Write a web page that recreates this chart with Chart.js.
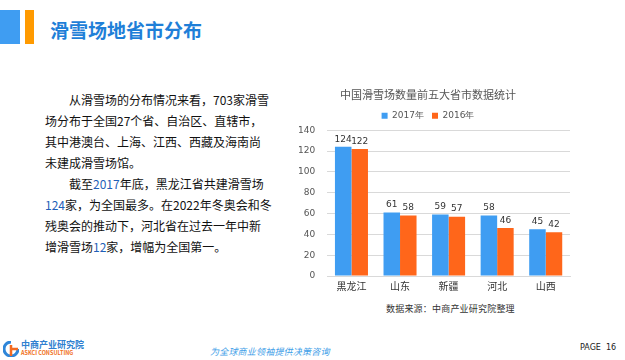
<!DOCTYPE html>
<html><head><meta charset="utf-8">
<script src="https://cdn.jsdelivr.net/npm/chart.js@4/dist/chart.umd.min.js"></script>
<style>
html,body{margin:0;padding:0;background:#fff;}
body{width:625px;height:360px;position:relative;overflow:hidden;font-family:"Noto Sans CJK SC","Noto Sans",sans-serif;}
.bar1{position:absolute;left:0;top:10px;width:20px;height:34px;background:#3F9DF2;}
.bar2{position:absolute;left:25px;top:10px;width:9px;height:34px;background:#FF9A00;}
.title{position:absolute;left:50px;top:16px;font-size:19px;font-weight:bold;color:#1F7FD8;line-height:28px;}
.para{position:absolute;left:45px;top:89px;width:225px;font-size:12px;line-height:21px;color:#111;letter-spacing:0px;}
.para div{white-space:nowrap;}
.hl{color:#1F5FB8;}
#wrap{position:absolute;left:286px;top:84px;width:292px;height:212px;}
.src{position:absolute;left:386px;top:302px;font-size:9px;color:#333;letter-spacing:0.2px;}
.logo{position:absolute;left:3px;top:340px;}
.slogan{position:absolute;left:210px;top:345px;font-size:9px;color:#3FA0E8;font-style:italic;letter-spacing:0.2px;}
.page{position:absolute;left:580px;top:343px;font-size:8px;color:#222;font-family:"DejaVu Sans",sans-serif;}
</style></head>
<body>
<div class="bar1"></div><div class="bar2"></div>
<div class="title">滑雪场地省市分布</div>
<div class="para">
<div>&emsp;&emsp;从滑雪场的分布情况来看，703家滑雪</div>
<div>场分布于全国27个省、自治区、直辖市，</div>
<div>其中港澳台、上海、江西、西藏及海南尚</div>
<div>未建成滑雪场馆。</div>
<div>&emsp;&emsp;截至<span class="hl">2017</span>年底，黑龙江省共建滑雪场</div>
<div><span class="hl">124</span>家，为全国最多。在2022年冬奥会和冬</div>
<div>残奥会的推动下，河北省在过去一年中新</div>
<div>增滑雪场<span class="hl">12</span>家，增幅为全国第一。</div>
</div>
<div id="wrap"><canvas id="c"></canvas></div>
<div class="src">数据来源：中商产业研究院整理</div>
<div class="logo">
<svg width="16" height="16" viewBox="0 0 16 16" style="position:absolute;left:0;top:1px"><path d="M8 1 A7 7 0 1 0 15 8" fill="none" stroke="#2F86D9" stroke-width="3"/><path d="M8 4 L8 15 M8 8 L15 8" stroke="#F26A21" stroke-width="2.5"/></svg>
<div style="position:absolute;left:18px;top:0;font-size:9px;font-weight:bold;color:#2F7FD0;white-space:nowrap;line-height:10px;">中商产业研究院</div>
<div style="position:absolute;left:18px;top:10px;font-size:5.5px;font-weight:bold;color:#F07020;white-space:nowrap;line-height:7px;">ASKCI CONSULTING</div>
</div>
<div class="slogan">为全球商业领袖提供决策咨询</div>
<div class="page">PAGE&nbsp;&nbsp;16</div>
<script>
const categories = ["黑龙江","山东","新疆","河北","山西"];
const values2017 = [124,61,59,58,45];
const values2016 = [122,58,57,46,42];
const seriesNames = ["2017年","2016年"];
const yTicksMax = 140;

const labelPlugin = {
  id:'vals',
  afterDatasetsDraw(chart){
    const ctx = chart.ctx;
    ctx.save();
    ctx.font = '9px "DejaVu Sans", sans-serif';
    ctx.fillStyle = '#333';
    ctx.textAlign = 'center';
    ctx.textBaseline = 'bottom';
    chart.data.datasets.forEach((ds,i)=>{
      chart.getDatasetMeta(i).data.forEach((el,j)=>{
        ctx.fillText(String(ds.data[j]), el.x, el.y-3);
      });
    });
    ctx.restore();
  }
};

new Chart(document.getElementById('c'),{
  type:'bar',
  data:{labels:categories,datasets:[
    {label:seriesNames[0],data:values2017,backgroundColor:'#3F9DF2'},
    {label:seriesNames[1],data:values2016,backgroundColor:'#FF661A'}
  ]},
  options:{
    responsive:true,maintainAspectRatio:false,animation:false,
    devicePixelRatio:1,
    layout:{padding:{left:0,right:8,top:0,bottom:0}},
    datasets:{bar:{categoryPercentage:0.68,barPercentage:1}},
    plugins:{
      title:{display:true,text:'中国滑雪场数量前五大省市数据统计',color:'#555',font:{size:11,family:'"Noto Sans CJK SC", sans-serif',weight:'normal'},padding:{top:4,bottom:2}},
      legend:{display:true,labels:{boxWidth:6,boxHeight:6,color:'#555',font:{size:9,family:'"DejaVu Sans", sans-serif'},padding:8}},
      tooltip:{enabled:false}
    },
    scales:{
      x:{grid:{display:false,drawTicks:false},border:{color:'#d9d9d9'},ticks:{color:'#333',font:{size:10,family:'"Noto Sans CJK SC", sans-serif'},padding:4}},
      y:{min:0,max:yTicksMax,ticks:{stepSize:20,color:'#555',font:{size:9,family:'"DejaVu Sans", sans-serif'},padding:12},grid:{color:'#d9d9d9',drawTicks:false},border:{display:false}}
    }
  },
  plugins:[labelPlugin]
});
</script>
</body></html>
